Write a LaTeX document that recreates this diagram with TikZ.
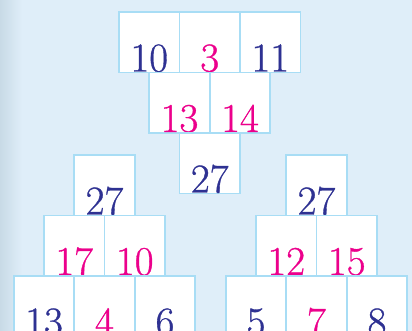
\documentclass[tikz,border=0pt]{standalone}
\usepackage{fontspec}
\usepackage{tikz}
\usetikzlibrary{positioning}
\usepackage{xcolor}
\newfontfamily\numfont{Latin Modern Roman}[FakeBold=0.8]
\definecolor{bgblue}{RGB}{223,238,249}
\definecolor{edgegray}{RGB}{200,218,230}
\definecolor{cellline}{RGB}{168,221,245}
\definecolor{numnavy}{RGB}{46,49,146}
\definecolor{nummag}{RGB}{236,0,140}

\begin{document}
\begin{tikzpicture}[%
    x=1pt, y=-1pt,
    node distance=0pt,
    cell/.style={rectangle, draw=cellline, line width=1.6pt, fill=white,
      minimum width=60.5pt, inner xsep=0pt, inner ysep=1pt, outer sep=0pt,
      text height=58.5pt, text depth=0pt,
      font=\numfont\fontsize{41pt}{41pt}\selectfont},
    given/.style={cell, text=numnavy},
    found/.style={cell, text=nummag},
  ]
  % --- background ---
  \useasboundingbox (0,0) rectangle (412,331);
  \fill[bgblue] (0,0) rectangle (412,331);
  \shade[left color=edgegray, right color=bgblue] (0,0) rectangle (22,331);

  \begin{scope}
    \clip (0,0) rectangle (412,331);

    % --- top pyramid ---
    \node[given, anchor=north west] (ta) at (119,12) {10};
    \node[found, right=of ta] (tb) {3};
    \node[given, right=of tb] (tc) {11};
    \node[found, anchor=north west] (td) at (ta.south) {13};
    \node[found, right=of td] (te) {14};
    \node[given, anchor=north west] (tf) at (td.south) {27};

    % --- left pyramid ---
    \node[given, anchor=north] (la) at (104.5,155) {27};
    \node[found, anchor=north east] (lb) at (la.south) {17};
    \node[found, right=of lb] (lc) {10};
    \node[given, anchor=north east] (ld) at (lb.south) {13};
    \node[found, right=of ld] (le) {4};
    \node[given, right=of le] (lf) {6};

    % --- right pyramid ---
    \node[given, anchor=north] (ra) at (316.5,155) {27};
    \node[found, anchor=north east] (rb) at (ra.south) {12};
    \node[found, right=of rb] (rc) {15};
    \node[given, anchor=north east] (rd) at (rb.south) {5};
    \node[found, right=of rd] (re) {7};
    \node[given, right=of re] (rf) {8};
  \end{scope}
\end{tikzpicture}
\end{document}
